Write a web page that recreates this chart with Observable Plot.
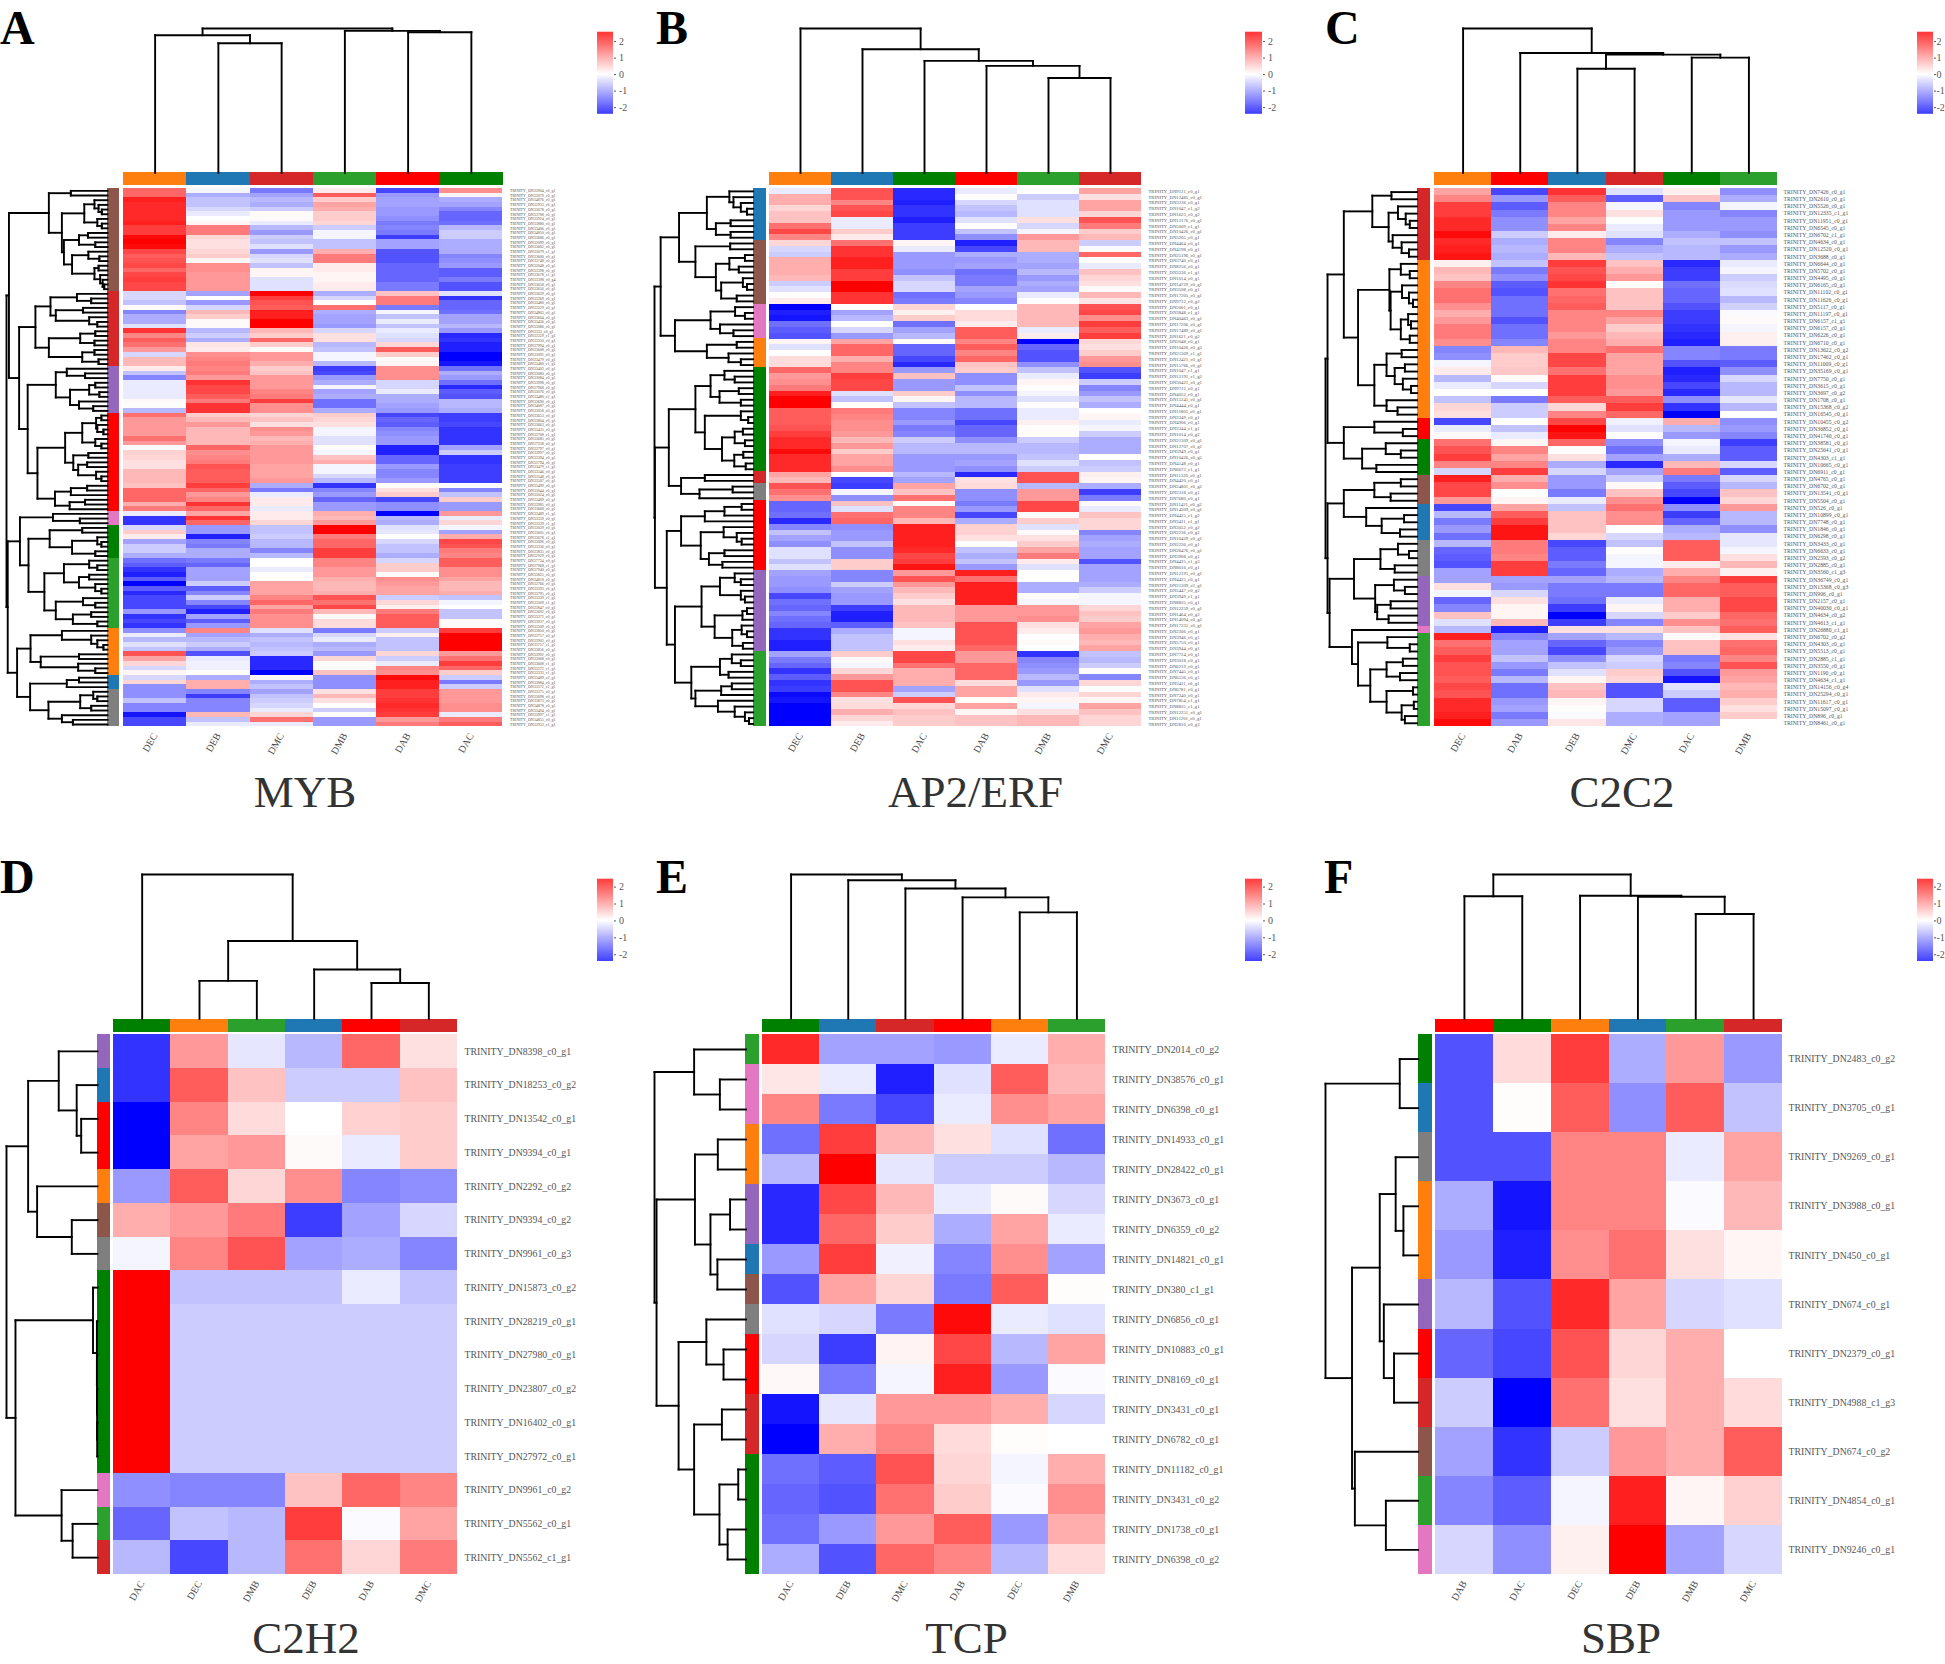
<!DOCTYPE html>
<html><head><meta charset="utf-8">
<script src="https://cdn.jsdelivr.net/npm/d3@7"></script>
<script src="https://cdn.jsdelivr.net/npm/@observablehq/plot@0.6"></script>
<style>
html,body{margin:0;padding:0;background:#fff}
#fig{position:relative;width:1945px;height:1664px;overflow:hidden;background:#fff}
#fig svg{position:absolute;background:transparent;overflow:visible;max-width:none}
.t{position:absolute;font-family:"Liberation Serif",serif;line-height:.7;white-space:nowrap}
</style></head><body><div id="fig"></div>
<script>
// ---------- sample and cluster categories ----------
const sampleColor={DEC:"#ff7f0e",DEB:"#1f77b4",DMC:"#d62728",DMB:"#2ca02c",DAB:"#ff0000",DAC:"#008000"};
const clusterColor={blue:"#1f77b4",orange:"#ff7f0e",green:"#2ca02c",dred:"#d62728",purple:"#9467bd",brown:"#8c564b",pink:"#e377c2",gray:"#7f7f7f",red:"#ff0000",dgreen:"#008000"};

// ---------- A: MYB ----------
const mybSamples=["DEC","DEB","DMC","DMB","DAB","DAC"];
const mybClusters=["brown","dred","purple","red","pink","dgreen","green","orange","blue","gray"];
const mybClusterSizes=[22,16,10,21,3,7,15,10,3,8];
const mybDEC=[1.5,1.5,2.2,2.1,2.1,2.1,2.1,2.2,1.9,1.9,2.4,2.5,2.4,1.8,1.6,1.7,1.8,1.5,1.8,1.9,1.8,1.8,
-.4,-.4,-.6,.05,-1.2,-.8,-.8,-.3,2,1.2,1.6,1.4,1,-.4,.7,.7,
.2,-.6,-1.2,-.2,-.2,-.2,-.2,.05,.03,-.7,
1.4,1,1,1,1,1.4,1,-.05,.45,.4,.3,.3,.7,.7,.7,.6,1.5,1.5,1.5,.8,1.3,
-.2,-2,-2,
-.4,.5,.2,-.9,-.5,-.5,-.8,
-1.4,-1.6,-2,-2.2,-1.6,-2.5,-1.6,-2.1,-1.8,-1.8,-1.8,-1,-2,-1.8,-2,
-1.1,-.2,-.7,-.3,-.6,1.7,.9,.4,-.4,.1,
-.4,.4,-1.1,
-1.1,-1.1,-.6,-1.2,-1.2,-2.3,-1.8,-1.8];
const mybDEB=[-.1,-.8,-.6,-.6,-.4,-.2,0,.1,1.3,1.3,.4,.3,.3,.4,.5,.1,1.1,1.1,1,1,1,1,
-.9,0,-1,-.4,.7,.5,.05,.05,-.7,-.5,-.8,.25,.2,1.1,1.2,1.3,
1.2,1.3,1,2,1.8,1.8,1.6,1.3,2,2,
.5,.7,1,.7,.7,.7,.7,1.5,1.1,1.2,1.3,1.7,1.6,1.6,1.6,1.9,1.5,1,1.2,2,1.5,
.9,2,1.5,
-1,-1,-2.2,-1.2,-1.3,-.8,-.8,
-1.3,-1.5,-.9,-.9,-.9,-.5,-1.6,-1.2,-.5,-1.2,-1.8,-2.2,-.9,-1.6,-1,
1.2,-.9,-.7,-.5,-.8,-1.7,-.2,-.15,-.15,0,
-.8,.8,.8,
-1.2,-1.9,-1.2,-1.2,-1.2,.7,-.6,-.2];
const mybDMC=[-1.3,-.9,-.7,-.8,-.5,.05,.05,-.2,-.7,-1,-.5,-.6,-.3,-1,-.4,-.3,-.6,.1,.1,-.3,-.3,-.3,
2.5,1.9,1.7,1.6,2.2,2.2,2.5,2.5,.7,.5,1.5,.5,.05,1,1,.8,
.5,.6,1,1,1,1.2,1.3,1.9,1.1,1.1,
.4,.6,.3,1.1,1,.7,.8,1,1,1,1,.9,.9,.9,1,-.8,-1.3,-.2,.2,.2,-.2,
.2,.2,.4,
-.6,-.6,-.5,-.7,-.7,-1.2,-.7,
0,0,-.2,0,.03,.9,.9,.9,1.2,1.5,.9,1.3,1.1,1.1,1.1,
-.3,-.8,-.6,-.7,-.6,-.5,-2.1,-2.1,-2.1,-2.5,
.1,-.8,-.6,
-.9,-.6,-.5,-.4,-.2,.4,1.4,-.2];
const mybDMB=[.2,1.6,.5,.9,.8,.5,.5,.4,-.5,-.1,-.1,-.6,-.6,.8,1.3,1.3,.2,.2,.1,.1,.2,.2,
-.8,-.4,0,1.4,-.8,-.9,-.9,-1,-.4,.3,.3,-.7,-.6,-.1,-.1,-.7,
-1.9,-1.8,-1,-.8,-.1,-.9,-.8,-1.4,-1.4,-.8,
.5,.4,.3,-.1,-.1,-.3,-.3,.03,-.1,.6,.8,-.1,-.1,-.4,-.7,-2,-1.2,-1,-1.5,-1,-1,
.8,.7,1,
2.5,2.5,1.3,1.5,1.5,1.9,1.9,
1.2,1.2,1,1,.8,.7,.7,.8,1.7,1.4,1.8,.7,.05,.35,.35,
-1.3,-.4,-.2,-.8,-.7,-1,.4,.05,.05,.6,
-1.1,-1.1,-1.1,
.3,.7,.3,0,-.5,.03,-1,-1];
const mybDAB=[-1.8,-1,-.9,-.9,-1,-1,-1.1,-1.3,-1.2,-1.3,-1.9,-.9,-.9,-1.7,-1.7,-1.7,-1.5,-1.5,-1.5,-1.5,-1.3,-1.3,
.6,1.3,1.3,-1.3,-.1,-.6,-.2,-.6,-.2,-.3,-.4,.4,1.6,.5,.05,.1,
1.1,1.1,1.1,-.4,-.4,-.2,-.8,-.8,-.9,-1,
-1.8,-1.5,-1.6,-1.2,-1.1,-1,-1,-2.2,-2.2,-1.5,-1.5,-1,-1.2,-1.2,-1,.03,.3,.5,-1.8,-1.1,-1.1,
-2.5,-.7,-.8,
-.3,-.25,0,-.4,-.6,-.6,-.8,
-.4,.5,.5,.05,1.1,1,.9,.9,-.5,.4,.15,1.3,1.6,1.6,1.6,
-.5,.15,-.6,-.6,-.6,.4,-.5,-.2,1.2,1.1,
2.4,2.2,2.2,
1.9,1.9,2,2.1,2,1.9,1,1.3];
const mybDAC=[1.1,.1,-.8,-.9,-1.2,-1.5,-1.5,-1.4,-.7,-.5,-.5,-.8,-.8,-.8,-1.2,-1.1,-1,-1.6,-1.6,-1.3,-1.7,-1.7,
-.3,-2,-1.5,-1.5,-1.4,-.9,-.9,-.7,-1,-2.1,-2,-2.2,-2.2,-2.5,-2.5,-2.3,
-1.4,-.8,-1,-1.4,-2.1,-1.6,-1.7,-.7,-.7,-.8,
-1.9,-1.9,-1.8,-2,-2,-2,-2,-.9,-.5,-2,-2,-1.9,-1.9,-1.9,-1.9,-.05,-1.2,-.6,.5,-1,-1,
1,-.2,.4,
-.1,-.9,.8,1.8,1.7,1.3,1.2,
1.6,1.6,1.1,1.1,.9,.7,.7,.8,-.6,-.1,0,-.6,-.6,.05,.05,
1.9,2.5,2.5,2.5,2.5,1,1.4,1.9,1.5,.5,
-.5,-1.3,-.5,
1,1,1,1.1,1.1,-.2,1.3,1.6];
const mybGenes=["33904_c0_g1","33079_c0_g1","34876_c0_g1","32933_c0_g1","33678_c0_g1","33708_c0_g1","33924_c0_g1","33880_c0_g1","33406_c0_g1","34850_c0_g1","33686_c0_g1","33099_c0_g1","33602_c0_g1","33079_c1_g1","33600_c0_g1","33748_c0_g1","33048_c0_g1","33398_c0_g1","33678_c1_g1","33398_c0_g4","33658_c0_g1","33656_c0_g1",
"33639_c0_g1","33369_c0_g1","33480_c0_g1","33329_c0_g1","34803_c0_g1","33604_c0_g1","33436_c0_g1","33086_c0_g1","3333_c0_g1","33329_c1_g1","33350_c0_g1","37994_c0_g1","33608_c0_g1","33092_c0_g1","33479_c0_g1","33480_c1_g1",
"33403_c0_g1","33080_c0_g1","33084_c0_g1","33998_c0_g1","37968_c0_g1","33076_c0_g1","33480_c2_g1","33690_c0_g1","34087_c0_g1","33058_c0_g1",
"33653_c0_g1","33804_c0_g1","33663_c0_g1","33435_c0_g1","33708_c1_g1","33685_c0_g1","37338_c0_g1","33797_c0_g1","33997_c0_g1","33394_c0_g1","33794_c0_g1","33479_c1_g1","33346_c0_g1","33348_c0_g1","33507_c0_g1","33499_c0_g1","33044_c0_g1","33024_c0_g1","33489_c0_g1","33985_c0_g1","33668_c0_g1",
"33489_c1_g1","33339_c0_g1","33339_c1_g1",
"33029_c0_g1","33605_c0_g1","33678_c2_g1","33096_c0_g1","33336_c0_g1","33835_c0_g1","32929_c0_g1",
"37734_c0_g1","37968_c1_g1","37940_c0_g1","33825_c0_g1","34818_c0_g1","33766_c0_g1","33393_c0_g1","33795_c0_g1","33339_c2_g1","33369_c1_g1","33847_c0_g1","33692_c0_g1","33372_c0_g1","33937_c0_g1","33309_c0_g1",
"33850_c0_g1","33757_c0_g1","33903_c0_g1","33757_c1_g1","33856_c0_g1","33992_c0_g1","33068_c0_g1","33608_c1_g1","33372_c1_g1","33333_c1_g1",
"33489_c2_g1","33884_c0_g1","33372_c2_g1",
"33375_c0_g1","33098_c0_g1","33873_c0_g1","34878_c0_g1","33494_c0_g1","33997_c1_g1","34855_c0_g1","32933_c1_g1"];
const mybRowTree=[248,
 [242,
  [144,[90,0,0],[112,[57,[32,0,[22,0,[14,0,0]]],[25,0,[14,0,0]]],[107,[70,[48,0,0],[30,0,0]],[87,[47,0,[20,0,0]],[32,[22,0,0],[18,0,[12,0,[8,0,0]]]]]]]],
  [217,
   [177,[140,[75,0,[40,0,0]],[127,[60,0,0],[45,0,[25,0,0]]]],[144,[67,[30,0,0],[32,0,0]],[62,[32,0,0],[22,0,0]]]],
   [196,
    [127,[100,0,[55,0,0]],[92,[45,[30,0,0],[20,0,0]],[70,0,[35,0,0]]]],
    [172,[104,[62,[28,[15,0,0],[25,0,[10,0,0]]],[30,0,[15,0,0]]],[84,[47,0,0],[72,[50,0,0],[28,0,[15,0,0]]]]],[129,[90,[50,0,0],0],[93,[55,0,0],0]]]]]],
 [245,
  [215,[134,0,[68,0,0]],[194,[142,[62,0,0],[87,[25,0,[15,0,0]],[30,0,0]]],[155,[107,[45,0,[25,0,0]],[70,[45,0,0],[30,0,[15,0,0]]]],[127,[60,0,[30,0,0]],[85,[40,0,0],[25,0,0]]]]]],
  [222,[189,[112,0,[40,0,[25,0,[10,0,0]]]],[164,[70,0,0],[72,0,[30,0,0]]]],[190,[100,[70,0,0],0],[145,[67,[35,0,[25,0,0]],[40,0,0]],[112,0,[85,0,0]]]]]]];
const mybColTree=[431,[411,0,[387,0,0]],[424,0,[420,0,0]]];

// ---------- B: AP2/ERF ----------
const apSamples=["DEC","DEB","DAC","DAB","DMB","DMC"];
const apClusters=["blue","brown","pink","orange","dgreen","dred","gray","red","purple","green"];
const apClusterSizes=[9,11,6,5,18,2,3,12,14,13];
const apDEC=[-.2,.8,.8,.4,.6,.6,1.4,1.8,1.2,
.4,-.4,-.5,.8,.8,.8,.7,-.5,-.3,.03,.2,
-2.5,-2.2,-2.3,-1.4,-1.6,-1.7,
.1,-.3,0,.35,.35,
1.5,1,1.1,1.3,2.2,2.5,2.5,1.6,1.6,1.6,1.7,1.9,2.1,2.1,2.4,2.1,2.1,2.1,
.9,.7,
1.7,1.4,1.1,
-1.5,-1.5,-1.4,-2.1,-1.2,-.6,-.9,-1.1,-.3,-.3,-.6,-.3,
-.9,-1,-1,-1.1,-1.8,-1.4,-1.5,-1.2,-1.4,-1.5,-2,-2,-2.2,-2.2,
-.9,-1.3,-1.5,-2,-1.6,-2,-1.9,-2.4,-2.3,-2.5,-2.5,-2.5,-2.5];
const apDEB=[1.7,1.7,1.2,1.7,1.8,-.2,-.2,.5,.2,
1.4,2,2,2.2,2.2,1.9,1.9,2.5,2.5,2,2,
0,-.9,-.7,0,-.4,-1,
.9,1.5,1.5,.8,1.2,
1.2,1.9,1.8,1.8,-.3,-.6,0,1.3,1.2,1.1,1.1,1,.7,1,.5,.9,.9,1.1,
0,-1.8,
-1.9,-.1,-1.1,
.6,-.3,1.4,1.5,-1.1,-1,-1,-.6,-1.1,-1.1,.5,.5,
-1.2,-1.2,-.5,-.9,-1,-1,-1.9,-2.2,-2.2,-1.6,-.8,-.6,-.6,-.6,
.5,.05,-.1,.4,1,1.7,1.7,1.2,.3,.35,.8,.4,.2];
const apDAC=[-2.1,-2.1,-2.2,-2,-2,-2.2,-1.9,-1.9,-1.9,
.1,-.2,-1,-1,-1,-1.1,-.6,-.4,-.4,-1.4,-1.3,
.4,.15,.5,-1.4,-.9,-.7,
.05,-1.5,-1.5,-1.8,-2.1,
-1,.6,-1,-1,.5,.1,-.6,-1.2,-1.2,-1,-1.3,-1.2,-.5,-.7,-.7,-1,-1,-1,
-.7,-.9,
.9,.6,1.4,
.05,1.2,1.2,.7,2.2,2.2,2.2,2.2,2.1,1.8,1.9,2.3,
1,1.7,1,.7,.5,.3,.7,.7,.7,.6,-.1,-.1,.3,.2,
1.8,1.8,1.4,.8,.8,.8,-.9,-.5,1.7,.4,.6,.5,.5];
const apDAB=[-.2,.03,-.4,-.6,-.7,-.3,.03,-.6,-1.1,
-2.2,-1.8,-.8,-1,-.9,-1.4,-1.3,-1.3,-.9,-1,-1.2,
0,.35,.35,.2,1.6,1.6,
1.2,1.6,1.2,1.5,.6,
.5,-1.1,-1.1,-.6,-1.1,-.7,-.7,-1.4,-1.4,-1.8,-1.5,-1.5,-1.1,-.7,-.7,-1,-.9,-1.1,
-2.1,.3,
.35,-1.1,-1.1,
-1.3,-1,-1.8,-.8,.45,.45,.3,0,-.6,-.8,-.6,-1,
2.2,1.4,2.2,2.2,2.2,2.2,1,1,1,1.7,1.7,1.7,1.7,1.5,
1,1,1.5,1.5,1.5,.35,.9,.9,.03,.9,.1,.6,.6];
const apDMB=[0,-.5,-.3,-.3,-.3,.3,-.4,-.1,1,
.7,.7,-.8,-.8,-.9,-.7,-1,-.8,-.9,-.2,.02,
.7,.7,.7,.7,-.2,.2,
-2.5,-1.5,-1.7,-1.7,-1.1,
-.6,-.2,.1,0,-.1,-.3,.03,-.2,-.2,.15,.03,.03,-.5,-.7,-.7,-.6,-.3,-.5,
1.7,1.7,
-.7,1,1,
1.8,1.8,.05,.5,-.3,.05,.3,.5,.9,1.3,.2,-.3,
0,0,-.8,-.8,.03,-.1,1,1,1.1,.3,.2,0,.05,0,
-2,-1.2,-1.1,-1,-.7,-1,-.3,.2,.1,-.1,.3,.7,.7];
const apDMC=[.9,.3,.9,.9,.4,1.7,1.3,.5,.7,
-.5,-.05,1.5,.03,-.2,.6,.4,.3,.05,.7,.25,
1.7,1.8,1.1,1.9,1.6,1.9,
.4,.3,.5,1,1.1,
-1.7,-1.9,-.5,-1.2,-1,-.6,-.8,.02,.1,-.2,-.1,-.5,-.8,-.8,-.8,0,-.6,-.5,
.15,.1,
-.8,-1.9,-1.3,
.05,-.2,.6,.4,.4,-1.2,-.9,-.8,-.9,-.9,-1.7,-.9,
-.9,-.9,-.8,-.5,-.1,-.1,.4,.6,.5,.9,1,.8,.7,.9,
-.6,-.7,-.5,.02,-1.2,.4,.03,.4,.1,.9,.6,.4,.4];
const apGenes=["9121_c0_g1","12485_c0_g1","3236_c0_g1","1047_c1_g2","1623_c0_g2","12176_c0_g1","5009_c1_g1","10426_c0_g1","3205_c0_g1",
"4464_c0_g1","4198_c0_g1","25196_c0_g1","3740_c0_g1","8256_c0_g1","3236_c1_g1","1014_c0_g1","14729_c0_g1","3508_c0_g1","17205_c0_g1","9712_c0_g2",
"5001_c0_g1","3848_c1_g1","40463_c0_g1","17206_c0_g1","17489_c0_g1","1621_c0_g2",
"5048_c0_g1","10426_c0_g3","21309_c1_g1","12421_c0_g1","15766_c0_g1",
"1047_c1_g1","12191_c1_g2","30421_c0_g1","9712_c0_g1","4052_c0_g1","15241_c0_g1","4444_c0_g1","11803_c0_g1","3349_c0_g1","4906_c0_g1","2344_c1_g1","1014_c0_g2","21309_c0_g1","12707_c0_g1","3949_c0_g1","10426_c0_g5","4148_c0_g1","6672_c1_g1",
"11320_c0_g1","4420_c0_g1",
"24801_c0_g2","2318_c0_g1","7680_c0_g1",
"11421_c0_g2","14309_c0_g1","4425_c1_g2","3411_c1_g1","3052_c0_g2","2236_c0_g2","10429_c0_g1","2236_c0_g1","26476_c0_g1","3908_c0_g1","4425_c1_g3","8016_c0_g1",
"12191_c0_g1","4425_c0_g1","21309_c2_g1","5447_c0_g2","3949_c1_g1","8835_c0_g1","12259_c0_g1","1464_c0_g2","14094_c0_g2","17231_c0_g1","2306_c0_g1","3946_c0_g1","5750_c0_g1","3944_c0_g1",
"7724_c0_g1","3018_c0_g1","6219_c0_g1","7445_c0_g1","6536_c0_g1","3411_c0_g1","6781_c0_g1","7240_c0_g1","7854_c1_g1","8835_c1_g1","12251_c0_g1","11201_c0_g1","2810_c0_g3"];
const apRowTree=[241,
 [226,
  [181,[113,[58,0,[48,0,[30,0,[15,0,0]]]],[91,[55,0,0],[55,0,0]]],[141,[56,0,0],[91,[58,[20,0,0],[35,0,0]],[78,[25,0,[15,0,0]],[40,0,0]]]]],
  [191,[104,[44,0,[20,0,0]],[81,0,[48,0,0]]],[113,[40,0,0],[60,0,[30,0,0]]]]],
 [240,
  [206,[141,[104,[70,0,[45,0,0]],[82,[35,0,0],[30,0,0]]],[118,[30,0,[12,0,0]],[76,[45,[25,0,0],[20,0,0]],[46,[24,0,0],[18,0,0]]]]],[176,[118,0,0],[131,[50,0,0],0]]],
  [211,[176,[118,[70,[28,0,0],0],0],[128,[72,0,[40,0,[28,0,0]]],[108,[70,0,0],[75,0,0]]]],
   [191,[126,[81,[45,0,[30,0,0]],[30,0,[20,0,0]]],[94,[26,[15,0,0],0],[51,[28,0,[15,0,0]],[25,0,0]]]],[151,[81,[52,0,[30,0,0]],[60,0,0]],[141,[78,[52,0,0],0],[86,0,[45,0,[20,0,[10,0,0]]]]]]]]]];
const apColTree=[432,0,[370,0,[335,0,[320,0,[284,0,0]]]]];

// ---------- C: C2C2 ----------
const c2c2Samples=["DEC","DAB","DEB","DMC","DAC","DMB"];
const c2c2Clusters=["dred","orange","red","dgreen","brown","blue","gray","purple","pink","green"];
const c2c2ClusterSizes=[10,22,3,5,4,5,5,7,1,13];
const c2c2DEC=[.9,1.2,1.9,1.9,2.1,2.1,2.4,2.1,2.2,2.3,
.15,.7,.6,1.2,1.4,1.4,1.1,.8,1,1.3,1.3,1.1,-1.2,-1.1,-.1,.2,-.7,-.2,0,-.6,.4,.3,
-1.8,-.2,.05,
1.4,1.7,1.9,1.2,-.4,
2.2,1.8,1.8,1,
-1.8,-.7,-1.3,-1,-1.4,
-.7,-1.5,-1.6,-1.7,-.9,
-.9,.3,-.1,-1.5,-1.2,.6,-.3,
-.7,
2.2,1.4,1.6,1.9,1.7,1.7,1.6,1.8,1.7,2.1,2.1,2.2,2.4];
const c2c2DAB=[-1.8,-1,-1.6,-1.3,-1.1,-1.1,-.5,-.8,-.7,-.8,
-.6,-1.3,-1.1,-1.6,-1.7,-1.4,-1.4,-1.4,-1.7,-1.4,-1.4,-1.2,.7,.5,.5,.55,.05,-.4,0,-1.3,-.5,-.5,
0,-.6,-.2,
.1,1.2,.9,1.2,1.9,
.8,1.1,0,.1,
.9,1.6,1.9,2.3,2.3,
1.3,1.3,1.2,1.9,1.9,
-.9,-1,-.4,.3,.1,.1,.7,
-2.2,
-1.2,-.9,-.9,-.6,-1,-1.3,-.7,-1.4,-1.4,-1,-.9,-1.3,-1];
const c2c2DEB=[2,1.6,1.2,1.2,.9,1.2,.2,1.2,1.2,.7,
1.9,1.7,1.8,2,1.4,1.5,1.6,1.2,1.2,1.2,1,1.2,1.2,1.8,1.8,1.4,1.9,1.9,1.9,1.6,.4,1.2,
1.8,2.5,2.3,
1.5,.03,.3,-.8,-.4,
-1,-1,-1.3,-.2,
-.6,.6,.6,.6,.4,
-1.8,-1.6,-1.6,-1.3,-1.5,
-.9,-1.3,-1.3,-1.4,-1.9,-2.5,-1.9,
.3,
-.9,-1.5,-1.8,-1.1,-.6,-.3,.1,.6,.7,.1,.03,-.05,.25];
const c2c2DMC=[-.3,-1.6,-.1,.3,0,-.2,-.3,-1.2,-.8,-.6,
.6,.8,1,.03,.6,.6,.6,1.2,.9,.5,.7,.8,1.4,.9,.9,.9,1.1,1.1,1,1.6,1.9,1.5,
-.15,-.3,.02,
-1.1,-1.4,-.9,-2.1,-.9,
-.5,.05,.6,1.1,
1.4,1.1,1.1,0,-.4,
-.6,.03,-.1,-.1,-.8,
-.7,-1.3,-1.3,-.2,.1,-.4,-1.2,
.3,
-.7,-1.2,-1,-.4,-.5,.5,.4,-1.7,-1.7,-.4,-.4,-.8,-.8];
const c2c2DAC=[.15,.6,-1.2,-1,-1,-1,-.8,-.6,-.7,-.7,
-2.1,-1.9,-1.9,-1.4,-1.5,-1.5,-1.7,-1.9,-1.9,-2,-2.1,-2.2,-1.2,-1.2,-1.7,-2.2,-2.1,-1.8,-2.1,-1.1,-2,-2.5,
.8,-.7,-1,
-.1,-.2,-.8,.7,1.3,
-1.3,-1.6,-1.8,-2.5,
-1.1,-1.9,-1.5,-.8,-.7,
1.6,1.6,1.6,.2,.8,
1.2,1.5,1.5,.8,.8,.5,1.1,
.6,
.05,.6,.6,-1.3,-1.2,-1.7,-2.3,-.3,-.5,-1.6,-1.6,-.9,-.9];
const c2c2DMB=[-1.1,-.8,-.1,-1.2,-1,-1,-1.1,-.6,-1,-.8,
-.2,-.1,-.5,-.35,-.3,-.7,-.45,-.05,.05,-.1,.15,.15,-1.3,-1.3,-1.6,-1.1,-.4,-.7,-.7,-.25,-.7,0,
-1.1,-1,-1.2,
-1.9,-1.6,-1.6,-.4,-1.6,
-.4,-.7,.6,.4,
1,-.7,-.7,-1.1,-.25,
-.25,-.1,.3,.7,.15,
1.9,1.6,1.6,1.8,1.8,1.5,1.4,
1.6,
.3,1.4,1.5,1.2,1.7,1,.9,.7,.8,.5,.3,.5,0];
const c2c2Genes=["7426_c0_g1","2610_c0_g1","5526_c0_g1","12335_c1_g1","11951_c0_g1","6545_c0_g1","6702_c1_g1","4634_c0_g1","12520_c0_g1","3688_c0_g1",
"6644_c0_g1","5702_c0_g1","4495_c0_g1","6165_c0_g1","11102_c0_g1","11626_c0_g1","5117_c0_g1","11197_c0_g1","6157_c1_g1","6157_c0_g1","6226_c0_g1","6710_c0_g1","13622_c0_g2","17462_c0_g1","11009_c0_g1","35169_c0_g1","7750_c0_g1","3615_c0_g1","3697_c0_g2","1708_c0_g1","15368_c0_g2","16545_c0_g1",
"10455_c0_g2","36852_c0_g1","41740_c0_g1",
"38581_c0_g1","25641_c0_g1","4303_c1_g1","10665_c0_g1","6911_c0_g1",
"4765_c0_g1","6702_c0_g1","13541_c0_g1","5504_c0_g1",
"526_c0_g1","10899_c0_g1","7748_c0_g1","1846_c0_g1","6298_c0_g1",
"3433_c0_g1","6633_c0_g1","2593_c0_g2","2885_c0_g1","3560_c1_g3",
"36749_c0_g1","15368_c0_g3","906_c0_g1","2157_c0_g1","40030_c0_g1","4634_c0_g2","4613_c1_g1",
"26880_c1_g1",
"6702_c0_g2","4303_c0_g1","5513_c0_g1","2885_c1_g1","3550_c0_g1","1190_c0_g1","4634_c1_g1","14156_c0_g4","25294_c0_g1","11617_c0_g1","15097_c0_g1","896_c0_g1","8461_c0_g1"];
const c2c2RowTree=[225,
 [220,
  [180,[110,[63,0,0],[70,[47,0,[28,0,[18,0,0]]],[60,0,[38,0,[20,0,0]]]]],
   [145,[68,[40,0,[18,0,0]],[65,[37,0,[20,0,[10,0,0]]],[40,[22,0,[15,0,0]],[18,0,0]]]],[105,[75,[38,0,0],[55,[30,0,0],[35,0,[15,0,0]]]],[75,0,[48,0,0]]]]],
  [180,[105,0,[35,0,0]],[135,[77,0,[40,0,0]],[100,0,0]]]],
 [220,
  [180,[105,[40,0,0],[65,0,0]],[125,0,[87,[32,0,0],[42,0,0]]]],
  [215,[155,[90,[47,0,[20,0,0]],[55,0,0]],[103,[57,0,[30,0,0]],[98,[65,0,0],[70,0,0]]]],[160,0,[145,[73,0,[18,0,0]],[115,[75,[35,0,0],[42,0,0]],[75,[10,0,0],[38,[8,0,0],[30,0,0]]]]]]]]];
const c2c2ColTree=[431,0,[358,0,[353,[311,0,0],[344,0,0]]]];

// ---------- D: C2H2 ----------
const c2h2Samples=["DAC","DEC","DMB","DEB","DAB","DMC"];
const c2h2Clusters=["purple","blue","red","orange","brown","gray","dgreen","pink","green","dred"];
const c2h2ClusterSizes=[1,1,2,1,1,1,6,1,1,1];
const c2h2Rows=[[-2,1,-.25,-.7,1.5,.3],[-2,1.6,.6,-.5,-.5,.6],[-2.5,1.2,.35,0,.45,.5],[-2.5,.9,1,.05,-.2,.5],[-1,1.6,.4,1.1,-1.2,-1.1],[.8,1,1.3,-1.9,-.9,-.4],[-.1,1.2,1.7,-.9,-.8,-1.2],[2.5,-.6,-.6,-.6,-.2,-.6],[2.5,-.5,-.5,-.5,-.5,-.5],[2.5,-.5,-.5,-.5,-.5,-.5],[2.5,-.5,-.5,-.5,-.5,-.5],[2.5,-.5,-.5,-.5,-.5,-.5],[2.5,-.5,-.5,-.5,-.5,-.5],[-1.1,-1.2,-1.2,.6,1.5,1.2],[-1.5,-.6,-.7,1.9,-.05,.9],[-.7,-1.8,-.7,1.4,.4,1.3]];
const c2h2Genes=["8398_c0_g1","18253_c0_g2","13542_c0_g1","9394_c0_g1","2292_c0_g2","9394_c0_g2","9961_c0_g3","15873_c0_g2","28219_c0_g1","27980_c0_g1","23807_c0_g2","16402_c0_g1","27972_c0_g1","9961_c0_g2","5562_c0_g1","5562_c1_g1"];
const c2h2RowTree=[223,[170,[95,0,[51,0,[40,0,0]]],[148,0,[63,0,0]]],[201,[11,0,[1.5,0,[1.2,0,[1,0,[.8,0,0]]]]],[88,0,[61,0,0]]]];
const c2h2ColTree=[278,0,[150,[73,0,0],[95,0,[69,0,0]]]];

// ---------- E: TCP ----------
const tcpSamples=["DAC","DEB","DMC","DAB","DEC","DMB"];
const tcpClusters=["green","pink","orange","purple","blue","brown","gray","red","dred","dgreen"];
const tcpClusterSizes=[1,2,2,2,1,1,1,2,2,4];
const tcpRows=[[2.1,-.9,-.9,-1,-.2,.8],[.25,-.2,-2.2,-.3,1.6,.7],[1.2,-1.3,-1.8,-.2,1.1,.9],[-1.4,1.9,.7,.3,-.3,-1.4],[-.7,2.5,-.25,-.5,-.5,-.7],[-2.1,1.8,.7,-.2,.05,-.4],[-2.1,1.5,.5,-.8,.9,-.2],[-1,1.9,-.15,-1.2,1.1,-.9],[-1.7,.9,.4,-1.3,1.6,.03],[-.3,-.4,-1.3,2.4,-.2,-.3],[-.4,-1.9,.12,1.8,-.7,.9],[.07,-1.3,-.1,2.2,-1,-.05],[-2.3,-.25,1,1,.8,-.4],[-2.5,.8,1.2,.35,.03,0],[-1.4,-1.6,1.7,.4,-.1,.8],[-1.5,-1.7,1.4,.5,-.05,1.1],[-1.4,-1,1,1.6,-1,.8],[-.8,-1.7,1.5,1.2,-.7,.35]];
const tcpGenes=["2014_c0_g2","38576_c0_g1","6398_c0_g1","14933_c0_g1","28422_c0_g1","3673_c0_g1","6359_c0_g2","14821_c0_g1","380_c1_g1","6856_c0_g1","10883_c0_g1","8169_c0_g1","3431_c0_g1","6782_c0_g1","11182_c0_g1","3431_c0_g2","1738_c0_g1","6398_c0_g2"];
const tcpRowTree=[224,[127,0,[64,0,0]],[219,[125,[69,0,0],[87,[39,0,0],[70,0,0]]],[165,[97,0,[55,0,0]],[127,[59,0,0],[65,[19,0,0],[45,0,0]]]]]];
const tcpColTree=[278,0,[267,0,[251,0,[234,0,[205,0,0]]]]];

// ---------- F: SBP ----------
const sbpSamples=["DAB","DAC","DEC","DEB","DMB","DMC"];
const sbpClusters=["dgreen","blue","gray","orange","purple","red","dred","brown","green","pink"];
const sbpClusterSizes=[1,1,1,2,1,1,1,1,1,1];
const sbpRows=[[-1.7,.35,1.9,-.8,1,-1],[-1.7,.03,1.6,-1.1,1.6,-.6],[-1.7,-1.7,1.2,1.2,-.2,.9],[-.8,-2.3,1.2,1.2,-.05,.7],[-1,-2.2,1.1,1.4,.3,.1],[-.7,-1.7,2.1,.9,-.4,-.3],[-1.5,-1.8,1.7,.4,.8,0],[-.5,-2.5,1.4,.3,.8,.35],[-.9,-2,-.5,1,.8,1.6],[-1.2,-1.6,-.1,2.2,.1,.45],[-.4,-1.1,.15,2.5,-.9,-.4]];
const sbpGenes=["2483_c0_g2","3705_c0_g1","9269_c0_g1","3988_c0_g1","450_c0_g1","674_c0_g1","2379_c0_g1","4988_c1_g3","674_c0_g2","4854_c0_g1","9246_c0_g1"];
const sbpRowTree=[227,[45,0,0],[162,[94,[55,0,[36,0,0]],[84,0,[59,0,0]]],[155,0,[79,0,0]]]];
const sbpColTree=[278,[236,0,0],[237,0,[235,0,[202,0,0]]]];

const colorTicks=[-2,-1,0,1,2];

// ---------- layout ----------
const panels=[
 {letter:"A",letterX:0,title:"MYB",titleX:305,samples:mybSamples,rows:d3.transpose([mybDEC,mybDEB,mybDMC,mybDMB,mybDAB,mybDAC]),genes:mybGenes,clusters:mybClusters,sizes:mybClusterSizes,rowTree:mybRowTree,colTree:mybColTree,
  hx:[122.5,502],bar:[107,119],dend:6,leg:[597,613],legPad:3.5,fs:4,pad:7},
 {letter:"B",letterX:656,title:"AP2/ERF",titleX:975.5,samples:apSamples,rows:d3.transpose([apDEC,apDEB,apDAC,apDAB,apDMB,apDMC]),genes:apGenes,clusters:apClusters,sizes:apClusterSizes,rowTree:apRowTree,colTree:apColTree,
  hx:[769,1141],bar:[752.6,766],dend:654,leg:[1245,1262],legPad:3.5,fs:4.7,pad:7},
 {letter:"C",letterX:1325,title:"C2C2",titleX:1622,samples:c2c2Samples,rows:d3.transpose([c2c2DEC,c2c2DAB,c2c2DEB,c2c2DMC,c2c2DAC,c2c2DMB]),genes:c2c2Genes,clusters:c2c2Clusters,sizes:c2c2ClusterSizes,rowTree:c2c2RowTree,colTree:c2c2ColTree,
  hx:[1434,1777],bar:[1417,1430],dend:1325.4,leg:[1917,1933],legPad:1,fs:5.7,pad:6},
 {letter:"D",letterX:0,title:"C2H2",titleX:306,samples:c2h2Samples,rows:c2h2Rows,genes:c2h2Genes,clusters:c2h2Clusters,sizes:c2h2ClusterSizes,rowTree:c2h2RowTree,colTree:c2h2ColTree,
  hx:[113,457],bar:[97,110],dend:6,leg:[597,613],legPad:3.5,fs:9.8,pad:7},
 {letter:"E",letterX:656,title:"TCP",titleX:966.5,samples:tcpSamples,rows:tcpRows,genes:tcpGenes,clusters:tcpClusters,sizes:tcpClusterSizes,rowTree:tcpRowTree,colTree:tcpColTree,
  hx:[762,1105],bar:[745,759],dend:653.5,leg:[1245,1262],legPad:3.5,fs:9.8,pad:7},
 {letter:"F",letterX:1324,title:"SBP",titleX:1621,samples:sbpSamples,rows:sbpRows,genes:sbpGenes,clusters:sbpClusters,sizes:sbpClusterSizes,rowTree:sbpRowTree,colTree:sbpColTree,
  hx:[1435,1782],bar:[1418,1432],dend:1325.4,leg:[1917,1933],legPad:1,fs:9.8,pad:6}];
const rowsLayout=[
 {letterY:43.5,titleY:808,dendTop:27.7,barTop:172,barBottom:185,top:188.3,bottom:726.7,leg:[32,113.7],legDomain:[-2.4,2.55]},
 {letterY:893,titleY:1654,dendTop:874.4,barTop:1018.7,barBottom:1031.7,top:1034.3,bottom:1574.3,leg:[878.6,960.6],legDomain:[-2.4,2.45]}];

const fig=document.getElementById("fig");
const FONT="'Liberation Serif',serif";
function place(svg,x,y){svg.style.left=x+"px";svg.style.top=y+"px";fig.appendChild(svg);}
function addText(s,x,baseline,size,style){
  const d=document.createElement("div");d.className="t";d.textContent=s;
  d.style.left=x+"px";d.style.top=(baseline-(.35+.3375)*size)+"px";d.style.fontSize=size+"px";Object.assign(d.style,style);fig.appendChild(d);
}
function treeSegments(tree){
  let next=0;const segs=[];
  (function go(n){
    if(n===0)return{p:(next++)+.5,h:0};
    const[h,a,b]=n,A=go(a),B=go(b);
    segs.push({p1:A.p,p2:A.p,h1:A.h,h2:h},{p1:B.p,p2:B.p,h1:B.h,h2:h},{p1:A.p,p2:B.p,h1:h,h2:h});
    return{p:(A.p+B.p)/2,h};
  })(tree);
  return segs;
}
const heatColor={type:"linear",domain:[-2.5,0,2.5],range:["#0000ff","#ffffff","#ff0000"],interpolate:"rgb",clamp:true};
const lineStyle={stroke:"#000",strokeWidth:1.9,strokeLinecap:"square"};

panels.forEach((p,pi)=>{
  const L=rowsLayout[pi<3?0:1],n=p.rows.length;
  const w=p.hx[1]-p.hx[0],h=L.bottom-L.top;
  const cells=p.rows.flatMap((r,i)=>r.map((v,j)=>({i,s:p.samples[j],v})));
  const idx=d3.range(n);
  // heat map with gene and sample labels
  place(Plot.plot({width:w+150,height:h+40,marginLeft:0,marginTop:0,marginRight:150,marginBottom:40,
    style:{fontFamily:FONT,background:"transparent",overflow:"visible"},
    x:{domain:p.samples,padding:0,round:false,axis:null},y:{domain:idx,padding:0,round:false,axis:null},color:heatColor,
    marks:[
      Plot.cell(cells,{x:"s",y:"i",fill:"v",shapeRendering:"crispEdges"}),
      Plot.axisY(idx,{anchor:"right",tickSize:0,tickPadding:p.pad,fontSize:p.fs,color:"#555",label:null,tickFormat:i=>"TRINITY_DN"+p.genes[i]}),
      Plot.axisX(p.samples,{anchor:"bottom",tickSize:0,tickPadding:7,tickRotate:-60,fontSize:10,color:"#444",label:null})
    ]}),p.hx[0],L.top);
  // sample annotation bar
  place(Plot.plot({width:w,height:L.barBottom-L.barTop,margin:0,style:{background:"transparent"},
    x:{domain:p.samples,padding:0,round:false,axis:null},y:{axis:null},
    marks:[Plot.cell(p.samples,{x:d=>d,fill:d=>sampleColor[d],shapeRendering:"crispEdges"})]}),p.hx[0],L.barTop);
  // gene cluster bar
  const rowCluster=p.clusters.flatMap((c,k)=>Array(p.sizes[k]).fill(c));
  place(Plot.plot({width:p.bar[1]-p.bar[0],height:h,margin:0,style:{background:"transparent"},
    y:{domain:idx,padding:0,round:false,axis:null},x:{axis:null},
    marks:[Plot.cell(idx,{y:d=>d,fill:d=>clusterColor[rowCluster[d]],shapeRendering:"crispEdges"})]}),p.bar[0],L.top);
  // column tree
  place(Plot.plot({width:w,height:L.barTop-L.dendTop,margin:0,style:{background:"transparent",overflow:"visible"},
    x:{domain:[0,6],range:[0,w],axis:null},y:{domain:[0,p.colTree[0]],range:[L.barTop-L.dendTop,0],axis:null},
    marks:[Plot.link(treeSegments(p.colTree),{x1:"p1",x2:"p2",y1:"h1",y2:"h2",...lineStyle})]}),p.hx[0],L.dendTop);
  // row tree
  const dw=p.bar[0]-p.dend;
  place(Plot.plot({width:dw,height:h,margin:0,style:{background:"transparent",overflow:"visible"},
    x:{domain:[0,p.rowTree[0]],range:[dw,0],axis:null},y:{domain:[0,n],range:[0,h],axis:null},
    marks:[Plot.link(treeSegments(p.rowTree),{y1:"p1",y2:"p2",x1:"h1",x2:"h2",...lineStyle})]}),p.dend,L.top);
  // colour key
  const lh=L.leg[1]-L.leg[0],lw=p.leg[1]-p.leg[0];
  const step=.02,key=d3.range(L.legDomain[0],L.legDomain[1],step);
  place(Plot.plot({width:lw+20,height:lh,marginLeft:0,marginTop:0,marginBottom:0,marginRight:20,
    style:{fontFamily:FONT,background:"transparent",overflow:"visible"},
    x:{domain:[0,1],axis:null},y:{domain:L.legDomain,range:[lh,0],axis:null},color:heatColor,
    marks:[
      Plot.rect(key,{x1:0,x2:1,y1:d=>d,y2:d=>d+step*1.2,fill:d=>d}),
      Plot.axisY(colorTicks,{anchor:"right",tickSize:2,tickPadding:p.legPad,fontSize:10,color:"#555",label:null,tickFormat:d=>String(d)})
    ]}),p.leg[0],L.leg[0]);
  addText(p.letter,p.letterX,L.letterY,48,{fontWeight:"bold",color:"#000"});
  addText(p.title,p.titleX,L.titleY,45,{color:"#333",transform:"translateX(-50%)"});
});
</script></body></html>
